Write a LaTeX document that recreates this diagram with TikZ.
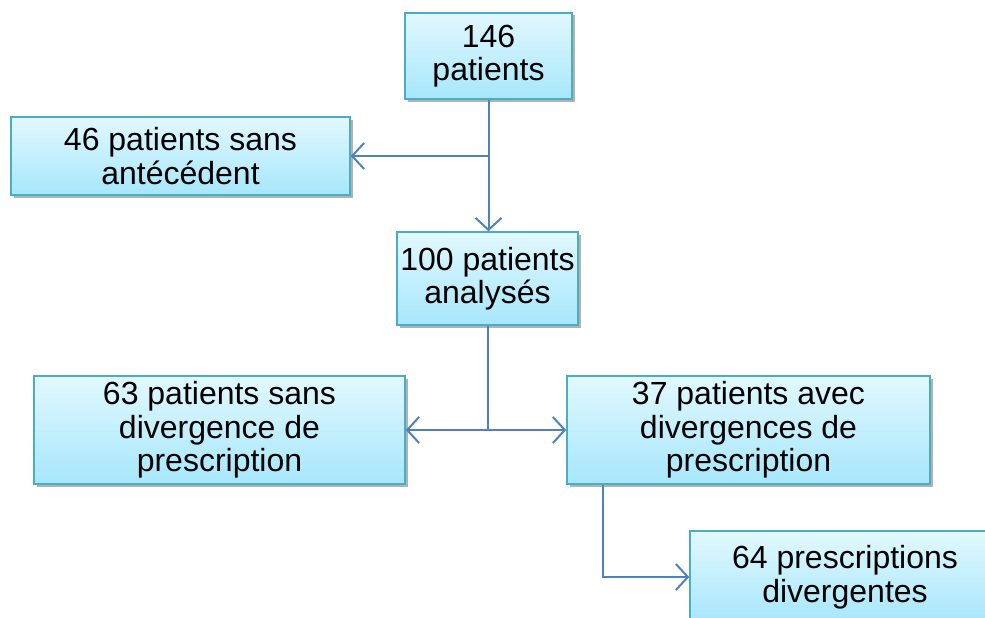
\documentclass[tikz,border=0pt]{standalone}
\usepackage{fontspec}
\setmainfont{Liberation Sans}
\usetikzlibrary{arrows.meta,shadows}

\definecolor{boxtop}{RGB}{226,248,254}
\definecolor{boxbot}{RGB}{166,231,251}
\definecolor{boxline}{RGB}{75,172,198}
\definecolor{linkblue}{RGB}{79,129,189}

\tikzset{every picture/.style={line width=1pt}}
\tikzset{
  flowbox/.style={draw=boxline, line width=1.5pt, rectangle, align=center,
    top color=boxtop, bottom color=boxbot, inner sep=0pt,
    font=\fontsize{32}{33.5}\selectfont,
    drop shadow={shadow xshift=2.5pt, shadow yshift=-2.5pt, fill=black, opacity=0.3}},
  link/.style={draw=linkblue, line width=2pt},
  arrowlink/.style={link, -{Straight Barb[length=12pt,width=26pt,line width=2pt]}}
}

\begin{document}
\begin{tikzpicture}[x=1pt,y=-1pt]
\useasboundingbox (0,0) rectangle (985,618);

%Boxes
\node[flowbox, minimum width=167pt, minimum height=86pt] (total) at (488.5,56) {146\\patients};
\node[flowbox, minimum width=339pt, minimum height=78pt] (sansAnt) at (180.5,156) {46 patients sans\\antécédent};
\node[flowbox, minimum width=181pt, minimum height=93pt] (analyses) at (487.5,278.5) {100 patients\\analysés};
\node[flowbox, minimum width=371pt, minimum height=108pt] (sansDiv) at (219.5,430) {63 patients sans\\divergence de\\prescription};
\node[flowbox, minimum width=363pt, minimum height=108pt] (avecDiv) at (748.5,430) {37 patients avec\\divergences de\\prescription};
\node[flowbox, minimum width=310pt, minimum height=92pt] (presc) at (845,577) {64 prescriptions\\divergentes};

%Connectors
\coordinate (split1) at (total.south |- sansAnt.east);
\coordinate (split2) at (analyses.south |- sansDiv.east);
\coordinate (down5) at ([xshift=-145.5pt]avecDiv.south);

\draw[arrowlink] (total.south) -- (total.south |- analyses.north);
\draw[arrowlink] (split1) -- (sansAnt.east);
\draw[link] (analyses.south) -- (split2);
\draw[arrowlink] (split2) -- (sansDiv.east);
\draw[arrowlink] (split2) -- (avecDiv.west);
\draw[arrowlink] (down5) |- (presc.west);

\end{tikzpicture}
\end{document}
